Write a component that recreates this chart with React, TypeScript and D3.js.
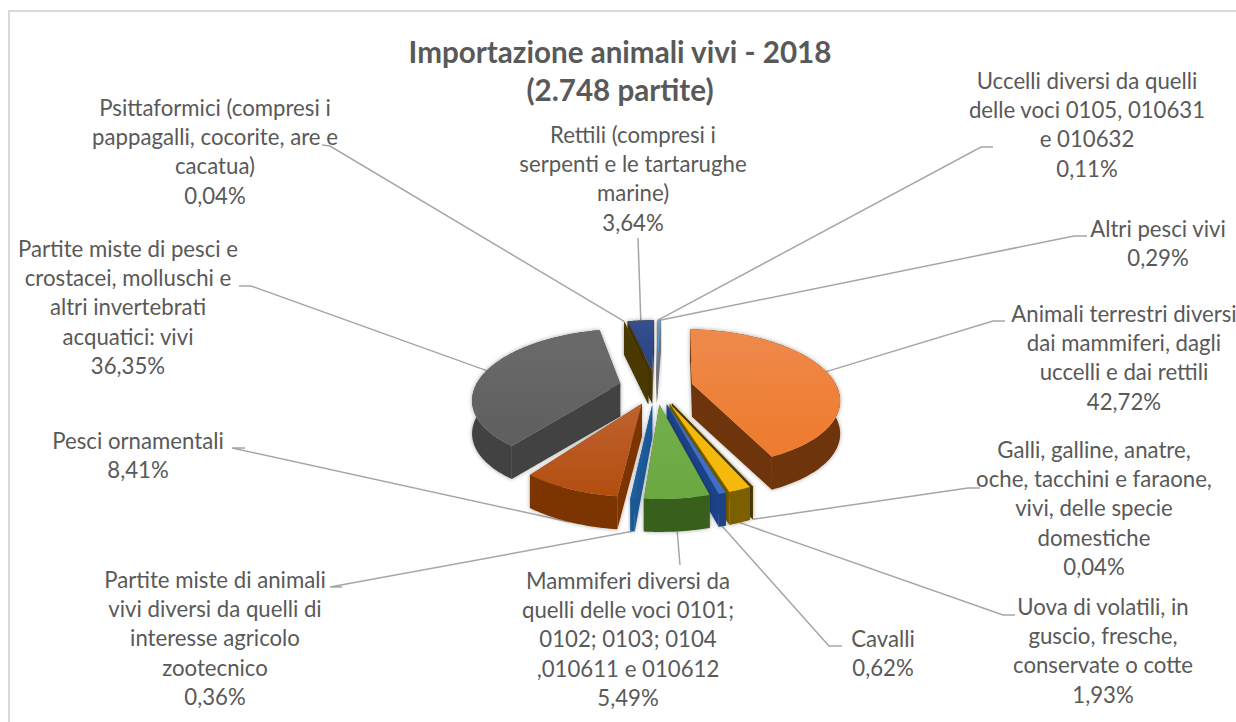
import * as d3 from "d3";

// values, clockwise from 12 o'clock
const categories = [
  "Animali terrestri",
  "Galli",
  "Uova",
  "Cavalli",
  "Mammiferi",
  "Partite miste animali",
  "Pesci ornamentali",
  "Partite miste pesci",
  "Psittaformici",
  "Rettili",
  "Uccelli",
  "Altri pesci",
];
const values = [42.72, 0.04, 1.93, 0.62, 5.49, 0.36, 8.41, 36.35, 0.04, 3.64, 0.11, 0.29];
const labelLines = [
  ["Animali terrestri diversi", "dai mammiferi, dagli", "uccelli e dai rettili", "42,72%"],
  ["Galli, galline, anatre,", "oche, tacchini e faraone,", "vivi, delle specie", "domestiche", "0,04%"],
  ["Uova di volatili, in", "guscio, fresche,", "conservate o cotte", "1,93%"],
  ["Cavalli", "0,62%"],
  ["Mammiferi diversi da", "quelli delle voci 0101;", "0102; 0103; 0104", ",010611 e 010612", "5,49%"],
  ["Partite miste di animali", "vivi diversi da quelli di", "interesse agricolo", "zootecnico", "0,36%"],
  ["Pesci ornamentali", "8,41%"],
  ["Partite miste di pesci e", "crostacei, molluschi e", "altri invertebrati", "acquatici: vivi", "36,35%"],
  ["Psittaformici (compresi i", "pappagalli, cocorite, are e", "cacatua)", "0,04%"],
  ["Rettili (compresi i", "serpenti e le tartarughe", "marine)", "3,64%"],
  ["Uccelli diversi da quelli", "delle voci 0105, 010631", "e 010632", "0,11%"],
  ["Altri pesci vivi", "0,29%"],
];
const titleLines = ["Importazione animali vivi - 2018", "(2.748 partite)"];

const colorsTop = ["#EE7A2C", "#FFC000", "#F5B90A", "#3F6FC4", "#6BA842", "#1F5F9E", "#B34E0F", "#5F5F5F", "#997300", "#254282", "#5B9BD5", "#5B9BD5"];
const colorsTopLight = ["#EE8A4C", "#FFC000", "#F5B90A", "#3F6FC4", "#74AF4A", "#1F5F9E", "#BE6230", "#6A6A6A", "#997300", "#36508F", "#5B9BD5", "#5B9BD5"];
const colorsSide = ["#6E3408", "#4F3E00", "#7C6000", "#1D4388", "#38611F", "#1C5896", "#7C3406", "#424242", "#4A3800", "#4A3800", "#6C7076", "#6C7076"];

// label layout: centre x, centre y of first line, line end next to the text, elbow, and whether the line lands on the lower rim
const labelX = [1124, 1094, 1103, 883, 628, 215, 138, 128, 215, 633, 1087, 1158];
const labelY = [315, 451, 608, 640, 582, 581, 442, 250, 109, 136, 82, 230];
const lineEnd: [number, number][] = [
  [1005, 321], [980, 488], [1015, 615], [842, 646], [680, 565], [342, 587],
  [245, 448], [239, 286], [322, 145], [638, 238], [993, 147], [1087, 236],
];
const lineElbow: ([number, number] | null)[] = [
  [993, 321], [968, 488], [1003, 615], [829, 646], null, [330, 587],
  [232, 448], [251, 286], [330, 146], null, [981, 147], [1074, 236],
];
const onLowerRim = [false, true, true, true, true, true, true, false, false, false, false, false];

const W = 1236;
const H = 722;
const cx = 656;
const cy = 387;
const R = 145;
const D = 720; // viewer distance for the perspective
const ky = 0.46; // tilt
const depth = 33;
const explode = 37;
const rotation = (2 * Math.PI) / 180;
const font = "Lato, 'Open Sans', sans-serif";

function project(X: number, Y: number, z = 0): [number, number] {
  const s = 1 / (1 - Y / D);
  return [cx + X * s, cy + Y * ky * s + z];
}

const pie = d3.pie<number>().sort(null).value((d) => d).startAngle(rotation).endAngle(2 * Math.PI + rotation);
const arcs = pie(values);

const pathOf = d3.line<[number, number]>().curve(d3.curveLinear);

function slice(i: number) {
  const a = arcs[i];
  const mid = (a.startAngle + a.endAngle) / 2;
  const ox = explode * Math.sin(mid);
  const oy = -explode * Math.cos(mid);
  const n = Math.max(2, Math.ceil((a.endAngle - a.startAngle) / 0.02));
  const angles = d3.range(n + 1).map((k) => a.startAngle + ((a.endAngle - a.startAngle) * k) / n);
  const rim = (z: number) => angles.map((t) => project(ox + R * Math.sin(t), oy - R * Math.cos(t), z));
  const rimTop = rim(0);
  const rimBot = rim(depth);
  const apexTop = project(ox, oy, 0);
  const apexBot = project(ox, oy, depth);
  const midOf = (z: number) => project(ox + R * Math.sin(mid), oy - R * Math.cos(mid), z);
  return {
    i,
    sortY: -Math.cos(mid),
    top: pathOf([apexTop, ...rimTop])! + "Z",
    outer: pathOf([...rimTop, ...[...rimBot].reverse()])! + "Z",
    cutA: pathOf([apexTop, rimTop[0], rimBot[0], apexBot])! + "Z",
    cutB: pathOf([apexTop, rimTop[n], rimBot[n], apexBot])! + "Z",
    anchor: onLowerRim[i] ? midOf(depth) : midOf(0),
  };
}

const slices = categories.map((_, i) => slice(i));
const drawOrder = d3.sort(slices, (s) => s.sortY);

export default function App() {
  return (
    <svg width={W} height={H} style={{ position: "absolute", left: 0, top: 0, background: "#fff" }}>
      <defs>
        <filter id="pieShadow" x="-10%" y="-10%" width="120%" height="120%">
          <feGaussianBlur in="SourceGraphic" stdDeviation="0.6" result="soft" />
          <feDropShadow in="soft" dx="0" dy="0" stdDeviation="2" floodColor="#000" floodOpacity="0.35" />
        </filter>
        {slices.map((s) => (
          <linearGradient key={s.i} id={`top${s.i}`} x1="0" y1="0" x2="0" y2="1">
            <stop offset="0" stopColor={colorsTopLight[s.i]} />
            <stop offset="1" stopColor={colorsTop[s.i]} />
          </linearGradient>
        ))}
      </defs>
      <rect x={9} y={11} width={W + 20} height={H + 20} fill="#fff" stroke="#d9d9d9" strokeWidth={2} />

      {slices.map((s, i) => {
        const pts = [s.anchor, ...(lineElbow[i] ? [lineElbow[i]!] : []), lineEnd[i]];
        return <path key={i} d={pathOf(pts as [number, number][])!} fill="none" stroke="#a6a6a6" strokeWidth={1.5} />;
      })}

      {drawOrder.map((s) => (
        <g key={s.i} filter="url(#pieShadow)">
          <path d={s.cutA} fill={colorsSide[s.i]} />
          <path d={s.cutB} fill={colorsSide[s.i]} />
          <path d={s.outer} fill={colorsSide[s.i]} />
          <path d={s.top} fill={`url(#top${s.i})`} />
        </g>
      ))}

      <g fontFamily={font} fontWeight={700} fontSize={29.6} fill="#595959" textAnchor="middle">
        {titleLines.map((t, i) => (
          <text key={t} x={620} y={63 + i * 38}>{t}</text>
        ))}
      </g>
      <g fontFamily={font} fontSize={22.2} fill="#595959" textAnchor="middle">
        {labelLines.map((lines, i) =>
          lines.map((t, j) => (
            <text key={`${i}-${j}`} x={labelX[i]} y={labelY[i] + 7 + j * 29.2}>{t}</text>
          ))
        )}
      </g>
    </svg>
  );
}
